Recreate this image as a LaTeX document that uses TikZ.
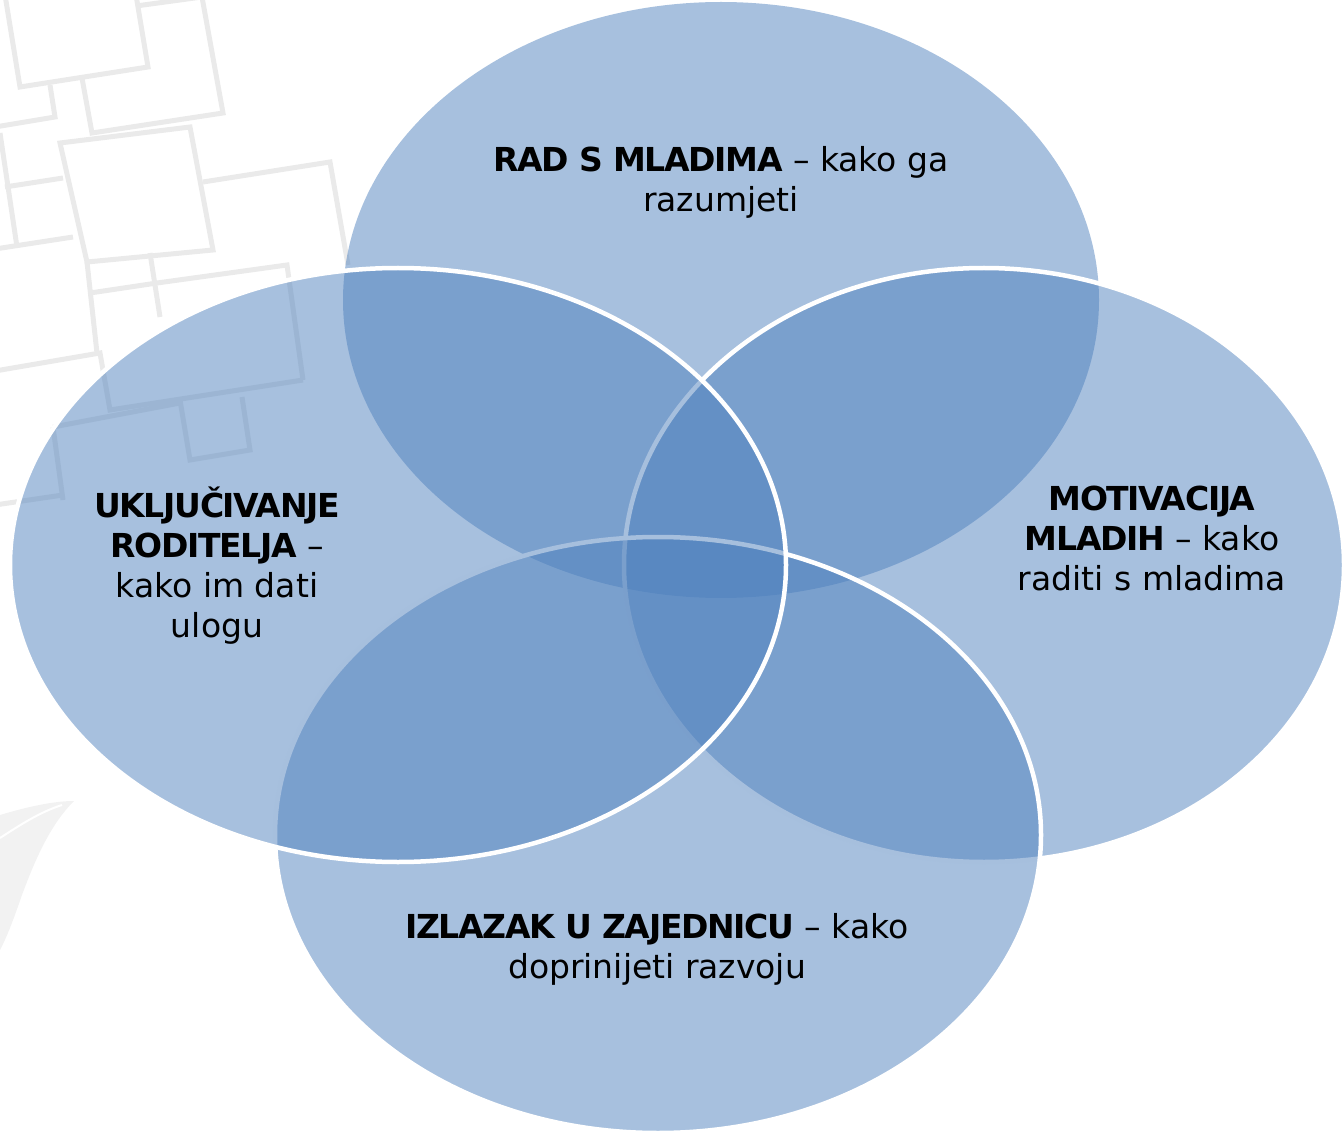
\documentclass[tikz,border=0pt]{standalone}
\usepackage{fontspec}
\setmainfont{DejaVu Sans}
\newfontfamily\medfont{DejaVu Sans}[UprightFont=*,BoldFont=* Bold,LetterSpace=-4]
\usetikzlibrary{shapes.geometric}
\definecolor{ellblue}{HTML}{4F81BD}
\definecolor{patgray}{HTML}{EAEAEA}
\definecolor{leafgray}{HTML}{F2F2F2}
\newcommand{\capsmed}[1]{{\medfont\bfseries #1}}
\begin{document}
\begin{tikzpicture}[x=1pt,y=-1pt,
  pat/.style={draw=patgray,line width=5pt,line join=miter},
  ellbase/.style={ellipse,inner sep=0pt,fill=ellblue,fill opacity=0.5},
  ell/.style={ellbase,draw=white,line width=4.5pt},
  lab/.style={align=center,font=\fontsize{33}{40}\selectfont,text=black,inner sep=0pt,anchor=base}]
\useasboundingbox (0,0) rectangle (1344,1139);
\clip (0,0) rectangle (1344,1139);
% background pattern
\draw[pat] (5,-5) -- (20,87) -- (148,67) -- (136,-5);
\draw[pat] (136,6) -- (202,-3);
\draw[pat] (202,-3) -- (223,113) -- (92,133) -- (82,78);
\draw[pat] (50,85) -- (55,117) -- (-5,127);
\draw[pat] (0,133) -- (17,247);
\draw[pat] (5,187) -- (63,178);
\draw[pat] (-5,249) -- (73,237);
\draw[pat] (60,143) -- (190,127) -- (213,250) -- (87,262) -- cycle;
\draw[pat] (203,182) -- (330,162) -- (348,265);
\draw[pat] (87,262) -- (97,353);
\draw[pat] (90,293) -- (157,283);
\draw[pat] (150,253) -- (160,317);
\draw[pat] (157,283) -- (287,265) -- (303,380);
\draw[pat] (-5,371) -- (100,353) -- (110,410) -- (303,380);
\draw[pat] (180,400) -- (190,460) -- (250,450) -- (242,397);
\draw[pat] (53,427) -- (180,403);
\draw[pat] (53,427) -- (63,500);
\draw[pat] (-5,505) -- (63,495);
% leaf
\fill[leafgray] (0,815) .. controls (30,806) and (55,801) .. (74,801)
  .. controls (50,825) and (35,860) .. (22,895) .. controls (15,915) and (8,935) .. (0,950) -- cycle;
\draw[white,line width=2pt] (0,838) .. controls (20,825) and (40,812) .. (62,805);
% ellipses
\node[ellbase,minimum width=756pt,minimum height=596pt] (top) at (721,300) {};
\node[ell,minimum width=720pt,minimum height=594pt] (right) at (984,565) {};
\node[ell,minimum width=766pt,minimum height=596pt] (bottom) at (658,835) {};
\node[ell,minimum width=776pt,minimum height=594pt] (left) at (398,565) {};
% labels
\node[lab] (ltop) at (721,212) {\capsmed{RAD S MLADIMA} – kako ga\\razumjeti};
\node[lab] (lleft) at (217,637) {\capsmed{UKLJUČIVANJE}\\\capsmed{RODITELJA} –\\kako im dati\\ulogu};
\node[lab] (lright) at (1152,590) {\capsmed{MOTIVACIJA}\\\capsmed{MLADIH} – kako\\raditi s mladima};
\node[lab] (lbottom) at (657,978) {\capsmed{IZLAZAK U ZAJEDNICU} – kako\\doprinijeti razvoju};
\end{tikzpicture}
\end{document}
